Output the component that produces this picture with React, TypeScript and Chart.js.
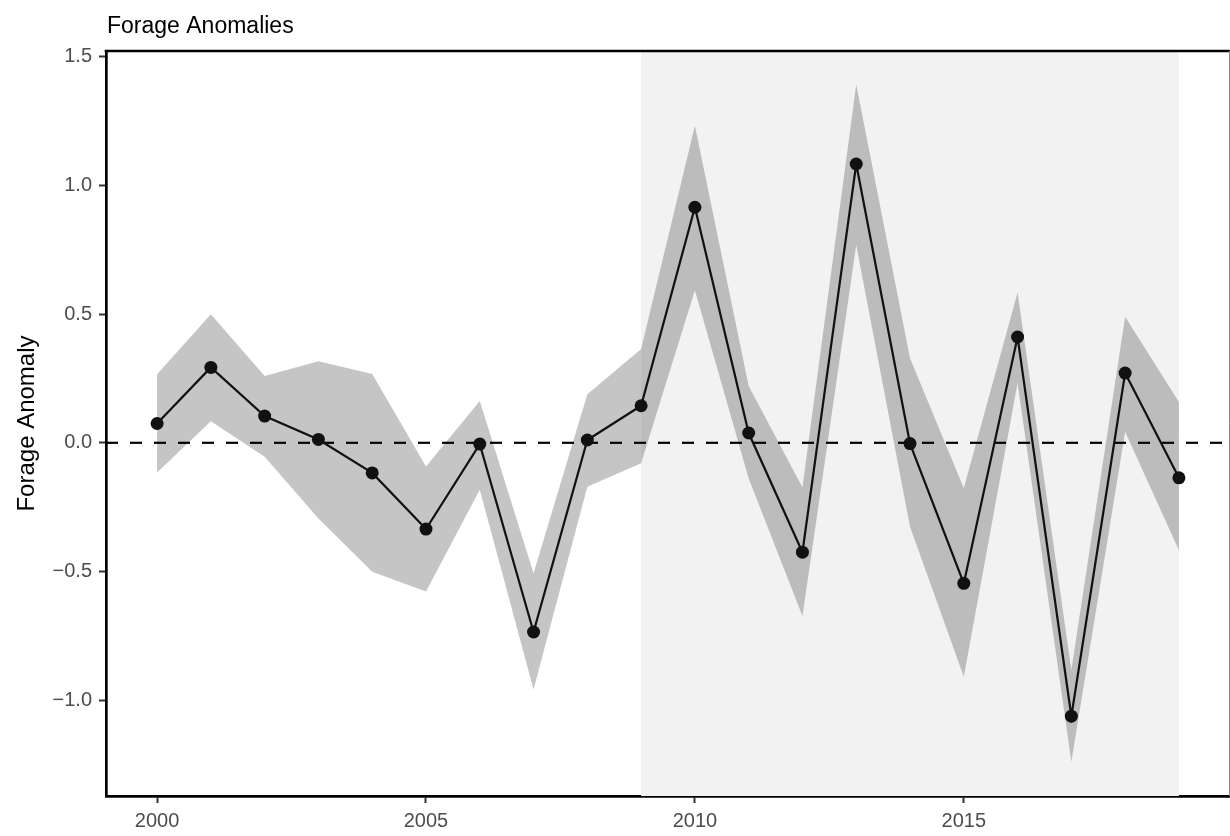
import React, { useEffect, useRef } from "react";
import { Chart, registerables } from "chart.js";

Chart.register(...registerables);

const years = [2000, 2001, 2002, 2003, 2004, 2005, 2006, 2007, 2008, 2009, 2010, 2011, 2012, 2013, 2014, 2015, 2016, 2017, 2018, 2019];
const anomaly = [0.075, 0.293, 0.104, 0.013, -0.117, -0.335, -0.005, -0.735, 0.011, 0.144, 0.915, 0.038, -0.425, 1.083, -0.003, -0.546, 0.411, -1.062, 0.271, -0.136];
const upperCI = [0.266, 0.499, 0.26, 0.317, 0.267, -0.092, 0.162, -0.507, 0.189, 0.364, 1.232, 0.221, -0.174, 1.392, 0.328, -0.177, 0.584, -0.883, 0.49, 0.159];
const lowerCI = [-0.115, 0.084, -0.054, -0.294, -0.501, -0.578, -0.182, -0.958, -0.171, -0.079, 0.593, -0.139, -0.673, 0.768, -0.326, -0.909, 0.232, -1.239, 0.043, -0.417];

const xTicks = [2000, 2005, 2010, 2015];
const xTickLabels = ["2000", "2005", "2010", "2015"];
const yTicks = [-1, -0.5, 0, 0.5, 1, 1.5];
const yTickLabels = ["\u22121.0", "\u22120.5", "0.0", "0.5", "1.0", "1.5"];
const shadeRange = [2009, 2019];
const xLimits = [1999.05, 2019.95];
const yLimits = [-1.372, 1.522];
const titleText = "Forage Anomalies";
const yTitleText = "Forage Anomaly";

const FONT = "'Liberation Sans', Arial, Helvetica, sans-serif";

export default function App() {
  const ref = useRef<HTMLCanvasElement | null>(null);

  useEffect(() => {
    const canvas = ref.current;
    if (!canvas) return;

    const decor = {
      id: "decor",
      beforeDatasetsDraw(chart: any) {
        const { ctx, chartArea, scales } = chart;
        const x0 = scales.x.getPixelForValue(shadeRange[0]);
        const x1 = scales.x.getPixelForValue(shadeRange[1]);
        ctx.save();
        ctx.fillStyle = "#F2F2F2";
        ctx.fillRect(x0, chartArea.top, x1 - x0, chartArea.bottom - chartArea.top);
        ctx.restore();
      },
      afterDraw(chart: any) {
        const { ctx, chartArea } = chart;
        ctx.save();
        // top border
        ctx.strokeStyle = "#000";
        ctx.lineWidth = 2.7;
        ctx.beginPath();
        ctx.moveTo(chartArea.left - 1.35, chartArea.top);
        ctx.lineTo(chartArea.right, chartArea.top);
        ctx.stroke();
        // right border (clipped at edge)
        ctx.strokeStyle = "#888";
        ctx.lineWidth = 1;
        ctx.beginPath();
        ctx.moveTo(chartArea.right - 0.5, chartArea.top);
        ctx.lineTo(chartArea.right - 0.5, chartArea.bottom);
        ctx.stroke();
        // title
        ctx.fillStyle = "#000";
        ctx.font = `23px ${FONT}`;
        ctx.textAlign = "left";
        ctx.textBaseline = "alphabetic";
        ctx.fillText(titleText, chartArea.left + 1, 33);
        // y axis title
        ctx.font = `24px ${FONT}`;
        ctx.translate(34, (chartArea.top + chartArea.bottom) / 2);
        ctx.rotate(-Math.PI / 2);
        ctx.textAlign = "center";
        ctx.fillText(yTitleText, 0, 0);
        ctx.restore();
      },
    };

    const chart = new Chart(canvas, {
      type: "line",
      data: {
        datasets: [
          {
            label: "anomaly",
            data: years.map((yr, i) => ({ x: yr, y: anomaly[i] })),
            borderColor: "#111111",
            borderWidth: 2.2,
            pointRadius: 6.5,
            pointBackgroundColor: "#111111",
            pointBorderWidth: 0,
            fill: false,
            order: 0,
          },
          {
            label: "zero",
            data: [
              { x: xLimits[0], y: 0 },
              { x: xLimits[1], y: 0 },
            ],
            borderColor: "#000000",
            borderWidth: 2.2,
            borderDash: [12, 12],
            pointRadius: 0,
            fill: false,
            order: 1,
          },
          {
            label: "upper",
            data: years.map((yr, i) => ({ x: yr, y: upperCI[i] })),
            borderColor: "rgba(0,0,0,0)",
            borderWidth: 0,
            pointRadius: 0,
            backgroundColor: "rgba(64,64,64,0.3)",
            fill: 3,
            order: 2,
          },
          {
            label: "lower",
            data: years.map((yr, i) => ({ x: yr, y: lowerCI[i] })),
            borderColor: "rgba(0,0,0,0)",
            borderWidth: 0,
            pointRadius: 0,
            fill: false,
            order: 3,
          },
        ],
      },
      options: {
        animation: false,
        responsive: false,
        maintainAspectRatio: false,
        layout: { autoPadding: false, padding: { left: 0, top: 51, right: 0, bottom: 0 } },
        plugins: {
          legend: { display: false },
          tooltip: { enabled: false },
          title: { display: false },
        },
        scales: {
          x: {
            type: "linear",
            min: xLimits[0],
            max: xLimits[1],
            afterBuildTicks: (scale: any) => {
              scale.ticks = xTicks.map((v) => ({ value: v }));
            },
            afterFit: (scale: any) => {
              scale.height = 40;
            },
            ticks: {
              callback: (_v: any, i: number) => xTickLabels[i],
              color: "#4D4D4D",
              font: { family: FONT, size: 20 },
              padding: 6,
              maxRotation: 0,
              autoSkip: false,
            },
            grid: {
              display: true,
              drawOnChartArea: false,
              drawTicks: true,
              tickLength: 7,
              tickColor: "#333333",
              tickWidth: 2,
            },
            border: { display: true, color: "#000", width: 2.7 },
          },
          y: {
            type: "linear",
            min: yLimits[0],
            max: yLimits[1],
            afterBuildTicks: (scale: any) => {
              scale.ticks = yTicks.map((v) => ({ value: v }));
            },
            afterFit: (scale: any) => {
              scale.width = 106;
            },
            ticks: {
              callback: (_v: any, i: number) => yTickLabels[i],
              color: "#4D4D4D",
              font: { family: FONT, size: 20 },
              padding: 7,
              autoSkip: false,
            },
            grid: {
              display: true,
              drawOnChartArea: false,
              drawTicks: true,
              tickLength: 7,
              tickColor: "#333333",
              tickWidth: 2,
            },
            border: { display: true, color: "#000", width: 2.7 },
          },
        },
      },
      plugins: [decor],
    } as any);

    return () => chart.destroy();
  }, []);

  return (
    <div style={{ position: "fixed", left: 0, top: 0, width: 1230, height: 836, background: "#fff" }}>
      <canvas ref={ref} width={1230} height={836} style={{ display: "block" }} />
    </div>
  );
}
